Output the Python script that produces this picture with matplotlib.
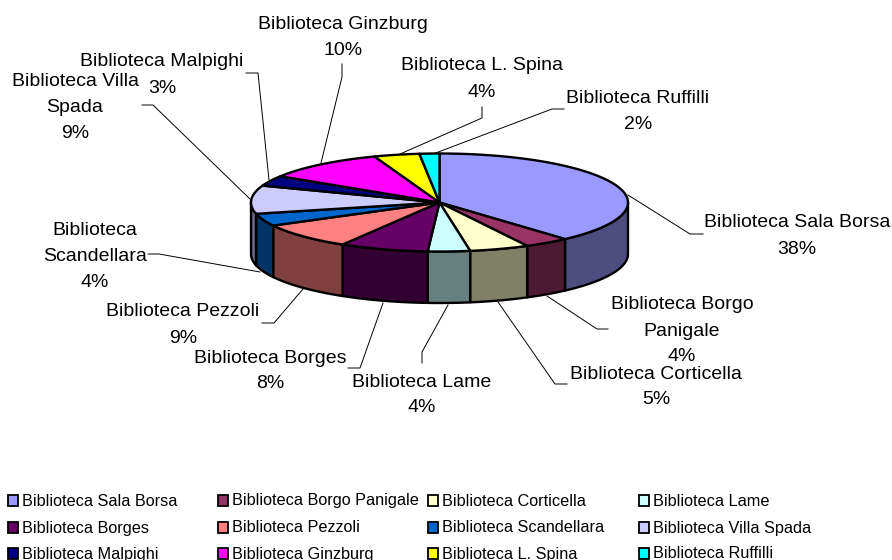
import numpy as np
from matplotlib import pyplot as plt
from matplotlib.patches import Polygon, Rectangle

plt.rcParams['font.family'] = ['Liberation Sans', 'DejaVu Sans']

names = ['Biblioteca Sala Borsa', 'Biblioteca Borgo Panigale', 'Biblioteca Corticella', 'Biblioteca Lame',
         'Biblioteca Borges', 'Biblioteca Pezzoli', 'Biblioteca Scandellara', 'Biblioteca Villa Spada',
         'Biblioteca Malpighi', 'Biblioteca Ginzburg', 'Biblioteca L. Spina', 'Biblioteca Ruffilli']
# the labels are rounded to whole percents
shares = [38.4, 3.9, 5.1, 3.6, 7.6, 8.6, 4.1, 9.3, 3.4, 10.4, 3.9, 1.7]
percents = [38, 4, 5, 4, 8, 9, 4, 9, 3, 10, 4, 2]
colors = ['#9999FF', '#993366', '#FFFFCC', '#CCFFFF', '#660066', '#FF8080',
          '#0066CC', '#CCCCFF', '#000080', '#FF00FF', '#FFFF00', '#00FFFF']

# label lines as they wrap on the chart
label_lines = [['Biblioteca Sala Borsa'], ['Biblioteca Borgo', 'Panigale'], ['Biblioteca Corticella'],
               ['Biblioteca Lame'], ['Biblioteca Borges'], ['Biblioteca Pezzoli'],
               ['Biblioteca', 'Scandellara'], ['Biblioteca Villa', 'Spada'], ['Biblioteca Malpighi'],
               ['Biblioteca Ginzburg'], ['Biblioteca L. Spina'], ['Biblioteca Ruffilli']]

# layout, in pixels of the figure
CX, CY, RX, RY, DEPTH = 439.5, 202.5, 188.5, 49, 51.5
label_x = [797, 682, 656, 422, 270, 183, 95, 75, 162, 343, 482, 638]
label_y = [[220, 247], [302, 329, 354], [372, 397], [380, 405], [356, 381], [309, 336],
           [228, 254, 280], [79, 105, 131], [59, 86], [22, 48], [63, 90], [96, 122]]
leaders = [[(628, 195), (690, 234), (703, 234)],
           [(547, 296), (597, 329), (608, 329)],
           [(498, 302), (555, 384), (567, 384)],
           [(448, 305), (422, 352), (422, 363)],
           [(383, 303), (360, 368), (348, 368)],
           [(303, 289), (274, 323), (262, 323)],
           [(260, 272), (159, 254), (148, 254)],
           [(250, 199), (153, 105), (142, 105)],
           [(269, 180), (258, 73), (246, 73)],
           [(321, 163), (342, 77), (342, 64)],
           [(400, 154), (482, 118), (482, 107)],
           [(433, 154), (552, 109), (564, 109)]]
legend_x = [7, 217, 427, 638]
legend_y = [500, 527, 553]


def arc(start, end, dy=0):
    # angles in degrees, clockwise from the top of the ellipse
    t = np.radians(np.linspace(start, end, 80))
    return np.column_stack([CX + RX * np.sin(t), CY + dy - RY * np.cos(t)])


fig = plt.figure(figsize=(8.92, 5.6), dpi=100)
ax = fig.add_axes([0, 0, 1, 1])
ax.set_xlim(0, 892)
ax.set_ylim(560, 0)
ax.axis('off')

edges = np.concatenate([[0], np.cumsum(shares)]) / np.sum(shares) * 360

# side wall, only the front half of the ellipse shows
for i, color in enumerate(colors):
    start, end = max(edges[i], 90), min(edges[i + 1], 270)
    if start >= end:
        continue
    rgb = np.array(plt.matplotlib.colors.to_rgb(color)) * 0.5
    pts = np.vstack([arc(start, end), arc(start, end, DEPTH)[::-1]])
    ax.add_patch(Polygon(pts, closed=True, facecolor=rgb, edgecolor='black', linewidth=1.7, joinstyle='round'))

# top face
for i, color in enumerate(colors):
    pts = np.vstack([[CX, CY], arc(edges[i], edges[i + 1])])
    ax.add_patch(Polygon(pts, closed=True, facecolor=color, edgecolor='black', linewidth=1.7, joinstyle='round'))

# leader lines and labels
for i, pct in enumerate(percents):
    xs, ys = zip(*leaders[i])
    ax.plot(xs, ys, color='black', linewidth=0.7, solid_joinstyle='miter')
    lines = label_lines[i] + [f'{pct}%']
    for line, y in zip(lines, label_y[i]):
        ax.text(label_x[i], y + 7, line, ha='center', va='baseline', fontsize=14, color='black')

# legend, filled row by row
for i, name in enumerate(names):
    x = legend_x[i % 4]
    y = legend_y[i // 4]
    ax.add_patch(Rectangle((x + 0.5, y - 5), 10.5, 10.5, facecolor=colors[i], edgecolor='black', linewidth=1.3))
    ax.text(x + 15, y + 5.5, name, ha='left', va='baseline', fontsize=11.7, color='black')

fig.savefig('out.png', dpi=100)
